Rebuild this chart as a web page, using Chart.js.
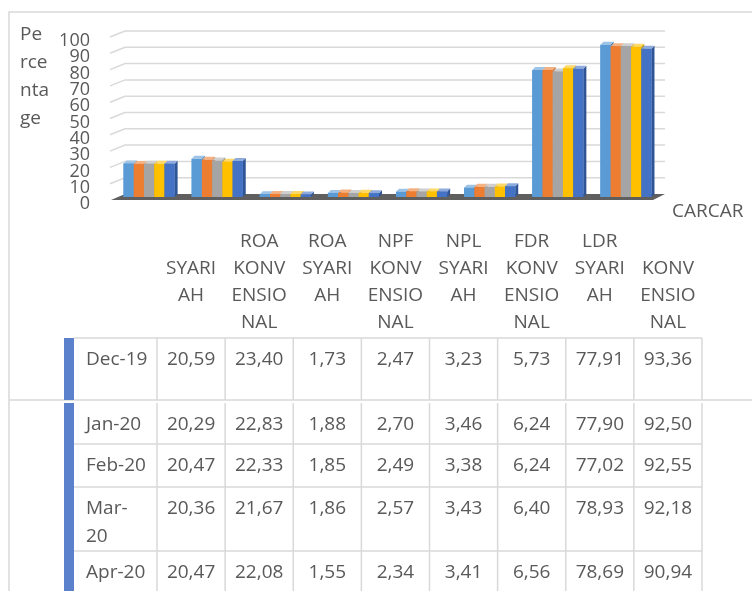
<!DOCTYPE html>
<html>
<head>
<meta charset="utf-8">
<title>Rasio Bank Syariah dan Konvensional</title>
<script src="https://cdn.jsdelivr.net/npm/chart.js@4.4.1/dist/chart.umd.min.js"></script>
<style>
html,body{margin:0;padding:0;background:#fff;}
#wrap{position:relative;width:752px;height:591px;}
</style>
</head>
<body>
<div id="wrap"><canvas id="ratioChart" width="752" height="591"></canvas></div>
<script>

// column headings, split the way they wrap under the bars
const categories = [
["", "SYARI", "AH"],
["ROA", "KONV", "ENSIO", "NAL"],
["ROA", "SYARI", "AH"],
["NPF", "KONV", "ENSIO", "NAL"],
["NPL", "SYARI", "AH"],
["FDR", "KONV", "ENSIO", "NAL"],
["LDR", "SYARI", "AH"],
["", "KONV", "ENSIO", "NAL"]
]

// monthly values (%)
const months = ["Dec-19", "Jan-20", "Feb-20", ["Mar-", "20"], "Apr-20"]
const dec19 = [20.59, 23.40, 1.73, 2.47, 3.23, 5.73, 77.91, 93.36]
const jan20 = [20.29, 22.83, 1.88, 2.70, 3.46, 6.24, 77.90, 92.50]
const feb20 = [20.47, 22.33, 1.85, 2.49, 3.38, 6.24, 77.02, 92.55]
const mar20 = [20.36, 21.67, 1.86, 2.57, 3.43, 6.40, 78.93, 92.18]
const apr20 = [20.47, 22.08, 1.55, 2.34, 3.41, 6.56, 78.69, 90.94]

const axisTitle = ["Pe", "rce", "nta", "ge"]
const cornerLabel = "CARCAR"

// front / top / side colours for the 3d bars
const faces = [
{front:"#5B9BD5", top:"#9DC3E6", side:"#2E75B6"},
{front:"#ED7D31", top:"#F4B183", side:"#C55A11"},
{front:"#A5A5A5", top:"#CFCFCF", side:"#7B7B7B"},
{front:"#FFC000", top:"#FFD966", side:"#BF9000"},
{front:"#4472C4", top:"#8FAADC", side:"#2F5597"}
]

const FAMILY = "'Open Sans'"
const FONT = "19px " + FAMILY
const TEXT = "#595959"
const LINE = "#D9D9D9"
const COL_SHIFT = 42

function fmt(v){
return v.toFixed(2).replace(".", ",")
}

const depthPlugin = {
id:"depth",

// back wall grid + floor
beforeDatasetsDraw(chart){
const ctx = chart.ctx
const ys = chart.scales.y
const xs = chart.scales.x
ctx.save()
ctx.strokeStyle = LINE
ctx.lineWidth = 1.5
ys.ticks.forEach(t => {
if (t.value === 0) return
const y = ys.getPixelForValue(t.value) - 3
ctx.beginPath()
ctx.moveTo(xs.left - 5, y + 6)
ctx.lineTo(xs.left + 10, y)
ctx.lineTo(xs.right + 5, y)
ctx.stroke()
})
const b = ys.getPixelForValue(0)
ctx.fillStyle = "#5F5F5F"
ctx.beginPath()
ctx.moveTo(xs.left - 4, b + 3)
ctx.lineTo(xs.left + 10, b - 3)
ctx.lineTo(xs.right + 5, b - 3)
ctx.lineTo(xs.right - 7, b + 3)
ctx.closePath()
ctx.fill()
ctx.restore()
},

// top and side faces, then the front again so the next bar hides the side
afterDatasetsDraw(chart){
const ctx = chart.ctx
const d = 3
ctx.save()
for (let i = 0; i < categories.length; i++){
chart.data.datasets.forEach((ds, k) => {
const el = chart.getDatasetMeta(k).data[i]
const p = el.getProps(["x", "y", "base", "width"], true)
const x0 = p.x - p.width / 2
const x1 = p.x + p.width / 2
ctx.fillStyle = faces[k].side
ctx.beginPath()
ctx.moveTo(x1, p.y)
ctx.lineTo(x1 + d, p.y - d)
ctx.lineTo(x1 + d, p.base - d)
ctx.lineTo(x1, p.base)
ctx.closePath()
ctx.fill()
ctx.fillStyle = faces[k].top
ctx.beginPath()
ctx.moveTo(x0, p.y)
ctx.lineTo(x0 + d, p.y - d)
ctx.lineTo(x1 + d, p.y - d)
ctx.lineTo(x1, p.y)
ctx.closePath()
ctx.fill()
ctx.fillStyle = faces[k].front
ctx.fillRect(x0, p.y, x1 - x0, p.base - p.y)
})
}
ctx.restore()
},

// frame, axis title and the data table
afterDraw(chart){
const ctx = chart.ctx
const xs = chart.scales.x
const slot = (xs.right - xs.left) / categories.length
ctx.save()

ctx.strokeStyle = LINE
ctx.lineWidth = 1.5
ctx.beginPath()
ctx.moveTo(752, 12); ctx.lineTo(9, 12); ctx.lineTo(9, 591)
ctx.moveTo(9, 400); ctx.lineTo(752, 400)
ctx.stroke()

ctx.font = FONT
ctx.fillStyle = TEXT
ctx.textBaseline = "middle"
ctx.textAlign = "left"
axisTitle.forEach((s, j) => ctx.fillText(s, 20, 35 + j * 28))
ctx.fillText(cornerLabel, 672, 212)

// table rows
const tops = [338, 403, 444, 487, 551]
const cols = []
for (let i = 0; i <= categories.length; i++){
cols.push(xs.getPixelForValue(i) + COL_SHIFT - slot / 2)
}
const right = cols[cols.length - 1]

ctx.strokeStyle = LINE
ctx.lineWidth = 1.5
ctx.beginPath()
ctx.moveTo(74, 338); ctx.lineTo(right, 338)
;[444, 487, 551].forEach(y => { ctx.moveTo(74, y); ctx.lineTo(right, y) })
cols.forEach(x => {
ctx.moveTo(x, 338); ctx.lineTo(x, 400)
ctx.moveTo(x, 403); ctx.lineTo(x, 591)
})
ctx.stroke()

ctx.fillStyle = "#5B80CC"
ctx.fillRect(64, 338, 10, 62)
ctx.fillRect(64, 403, 10, 188)

chart.data.datasets.forEach((ds, k) => {
const y = tops[k] + 22
ctx.fillStyle = TEXT
ctx.textAlign = "left"
const name = [].concat(months[k])
name.forEach((s, j) => ctx.fillText(s, 86, y + j * 28))
ctx.textAlign = "center"
ds.data.forEach((v, i) => {
ctx.fillText(fmt(v), (cols[i] + cols[i + 1]) / 2, y)
})
})
ctx.restore()
}
}

const series = [dec19, jan20, feb20, mar20, apr20]

new Chart(document.getElementById("ratioChart"), {
type:"bar",
data:{
labels:categories,
datasets:series.map((values, k) => ({
label:[].concat(months[k]).join(""),
data:values,
backgroundColor:faces[k].front,
borderWidth:0,
barPercentage:1,
categoryPercentage:0.75
}))
},
options:{
responsive:false,
animation:false,
devicePixelRatio:1,
layout:{padding:{left:0, top:30, right:92, bottom:244}},
plugins:{legend:{display:false}, tooltip:{enabled:false}},
scales:{
x:{
grid:{display:false, drawTicks:false},
border:{display:false},
ticks:{
color:TEXT,
font:{family:FAMILY, size:19, lineHeight:1.42},
padding:31,
labelOffset:COL_SHIFT,
maxRotation:0,
autoSkip:false
},
afterFit(scale){ scale.height = 150 }
},
y:{
min:0,
max:100,
grid:{display:false, drawTicks:false},
border:{display:false},
ticks:{
stepSize:10,
autoSkip:false,
color:TEXT,
font:{family:FAMILY, size:18, lineHeight:1},
padding:25,
labelOffset:7
},
afterFit(scale){ scale.width = 115 }
}
}
},
plugins:[depthPlugin]
})

</script>
</body>
</html>
